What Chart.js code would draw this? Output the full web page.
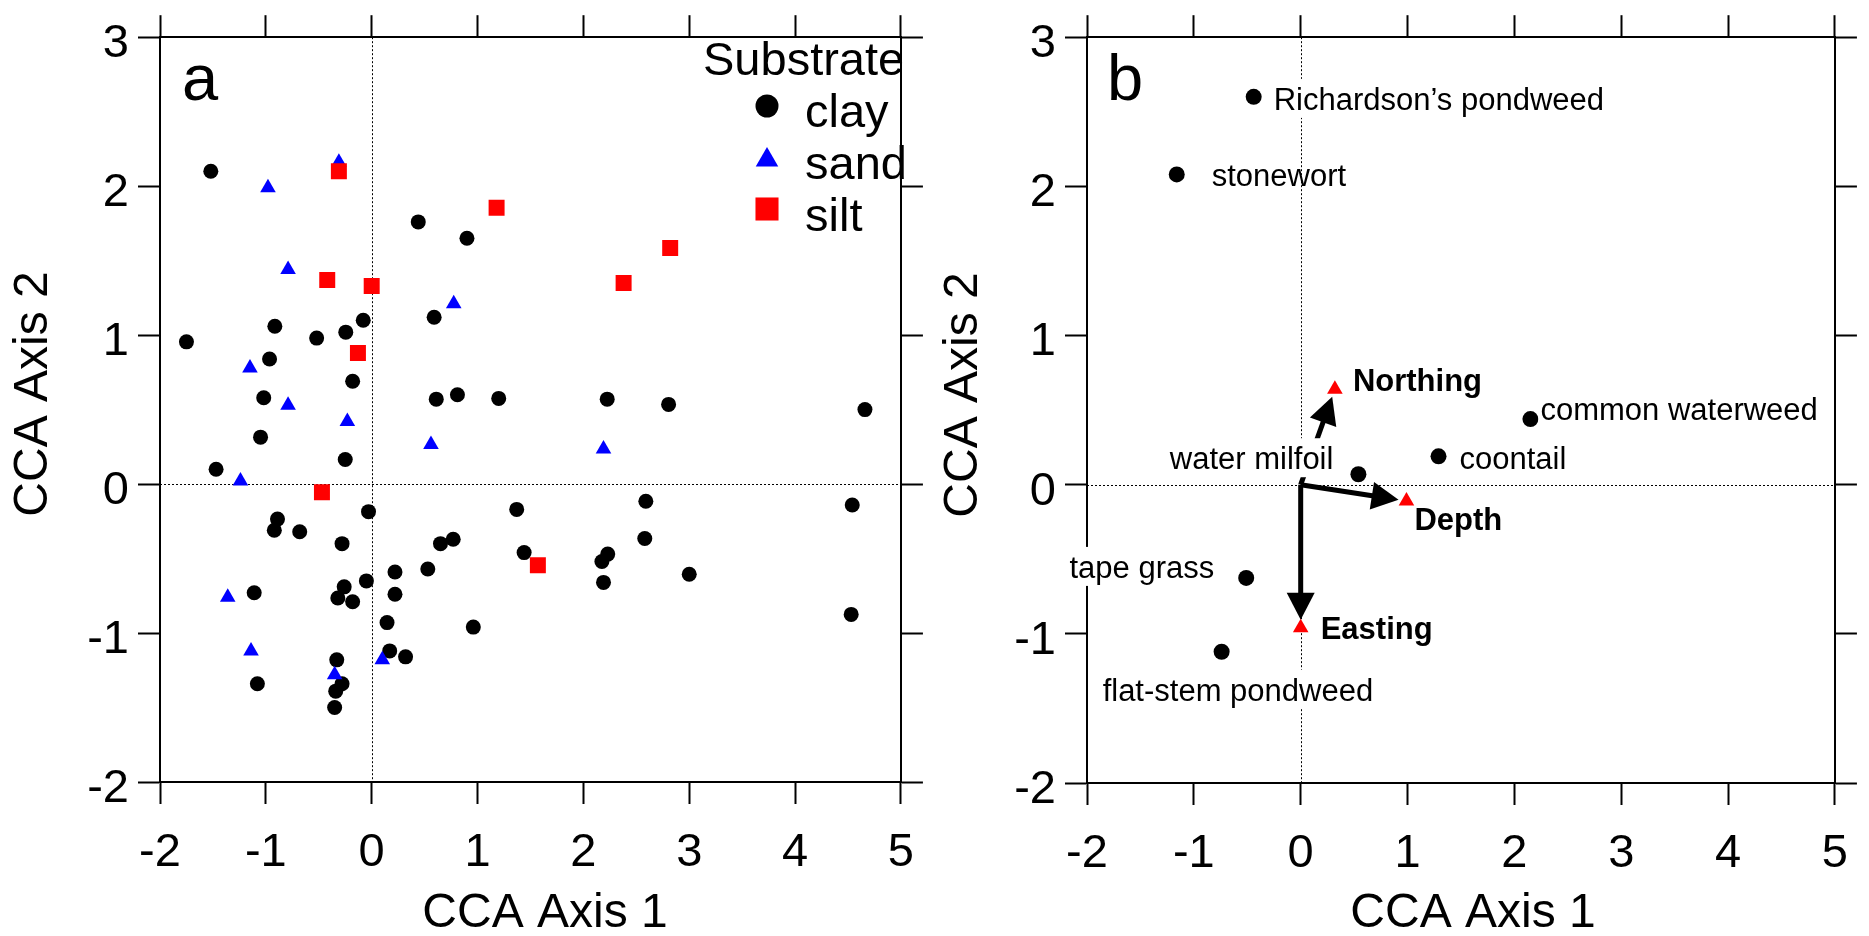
<!DOCTYPE html>
<html>
<head>
<meta charset="utf-8">
<title>CCA ordination</title>
<script src="https://cdn.jsdelivr.net/npm/chart.js@4.4.1/dist/chart.umd.min.js"></script>
<style>
  html, body { margin: 0; padding: 0; background: #fff; }
  #wrap { position: relative; width: 1869px; height: 936px; overflow: hidden; }
  canvas { position: absolute; top: 0; }
  #chartA { left: 0; }
  #chartB { left: 935px; }
</style>
</head>
<body>
<div id="wrap">
  <canvas id="chartA" width="935" height="936"></canvas>
  <canvas id="chartB" width="934" height="936"></canvas>
</div>
<script>
// Panel a: site scores, split by substrate
const clayX = [-1.52, 0.44, 0.90, -1.75, -0.915, -0.52, -0.245, -0.08, 0.59, -0.965,
  -0.18, -1.02, 0.61, 0.81, 1.20, 2.225, 2.805, 4.66, -1.05, -0.25,
  -1.47, 2.59, 4.54, 1.37, -0.03, -0.89, -0.92, -0.68, -0.28, 0.77,
  0.65, 2.58, 1.44, 2.23, 2.175, 3.00, 0.53, 0.22, -0.05, 2.19,
  -0.26, -1.11, 0.22, -0.32, -0.18, 0.145, 0.96, 4.53, 0.17, 0.32,
  -0.33, -1.08, -0.28, -0.34, -0.35];
const clayY = [2.10, 1.76, 1.65, 0.955, 1.06, 0.98, 1.02, 1.10, 1.12, 0.84,
  0.69, 0.58, 0.57, 0.60, 0.575, 0.57, 0.535, 0.50, 0.315, 0.165,
  0.10, -0.115, -0.14, -0.17, -0.185, -0.235, -0.31, -0.32, -0.40, -0.37,
  -0.40, -0.365, -0.46, -0.47, -0.52, -0.605, -0.57, -0.59, -0.65, -0.66,
  -0.69, -0.73, -0.74, -0.765, -0.79, -0.93, -0.96, -0.875, -1.12, -1.16,
  -1.18, -1.34, -1.34, -1.39, -1.50];

const sandX = [-0.31, -0.98, -0.79, 0.775, -1.15, -0.79, -0.23, 0.56, 2.19, -1.24, -1.36, -1.14, 0.10, -0.35];
const sandY = [2.16, 1.99, 1.44, 1.21, 0.78, 0.53, 0.42, 0.265, 0.235, 0.02, -0.76, -1.12, -1.18, -1.28];

const siltX = [-0.31, 1.18, 2.82, -0.42, 0.00, 2.38, -0.13, -0.47, 1.57];
const siltY = [2.10, 1.855, 1.585, 1.37, 1.33, 1.35, 0.88, -0.055, -0.545];

const substrates = ["clay", "sand", "silt"];

// Panel b: species scores and environmental vectors
const speciesNames = ["Richardson\u2019s pondweed", "stonewort", "common waterweed", "coontail",
  "water milfoil", "tape grass", "flat-stem pondweed"];
const speciesX = [-0.44, -1.16, 2.15, 1.29, 0.54, -0.51, -0.74];
const speciesY = [2.60, 2.08, 0.44, 0.19, 0.07, -0.625, -1.12];

const envNames = ["Northing", "Depth", "Easting"];
const envX = [0.32, 0.99, 0.00];
const envY = [0.64, -0.11, -0.96];

// Axis ticks (same for both panels)
const xTicks = [-2, -1, 0, 1, 2, 3, 4, 5];
const yTicks = [-2, -1, 0, 1, 2, 3];
const xTitle = "CCA Axis 1";
const yTitle = "CCA Axis 2";

const FONT = "'Liberation Sans', Arial, Helvetica, sans-serif";

// where each label sits relative to its point (pixels)
const speciesLabelPlace = [
  { align: "left", dx: 20, dy: 13, box: true },
  { align: "left", dx: 35, dy: 12, box: false },
  { align: "left", dx: 10, dy: 1, box: true },
  { align: "left", dx: 21, dy: 13, box: true },
  { align: "right", dx: -25, dy: -5, box: true },
  { align: "right", dx: -32, dy: 0, box: true },
  { align: "left", dx: -119, dy: 49, box: true }
];
const envLabelPlace = [
  { align: "left", dx: 18, dy: 2 },
  { align: "left", dx: 8, dy: 29 },
  { align: "left", dx: 20, dy: 11 }
];

function toPoints(xs, ys) {
  return xs.map((x, i) => ({ x: x, y: ys[i] }));
}

function makeScales(area, canvasW, canvasH) {
  const tickFont = { family: FONT, size: 47 };
  const grid = { drawOnChartArea: false, drawTicks: true, tickLength: 22, tickWidth: 2, tickColor: "#000" };
  const border = { display: true, color: "#000", width: 2 };
  const setX = s => { s.ticks = xTicks.map(v => ({ value: v })); };
  const setY = s => { s.ticks = yTicks.map(v => ({ value: v })); };
  return {
    x: {
      type: "linear", position: "bottom", min: -2, max: 5,
      grid: grid, border: border, afterBuildTicks: setX,
      ticks: { font: tickFont, color: "#000", padding: 21, maxRotation: 0, autoSkip: false },
      afterFit: s => { s.height = canvasH - area.bottom; }
    },
    x2: {
      type: "linear", position: "top", min: -2, max: 5,
      grid: grid, border: border, afterBuildTicks: setX,
      ticks: { display: false },
      afterFit: s => { s.height = area.top; }
    },
    y: {
      type: "linear", position: "left", min: -2, max: 3,
      grid: grid, border: border, afterBuildTicks: setY,
      ticks: { font: tickFont, color: "#000", padding: 9, labelOffset: 7, autoSkip: false },
      afterFit: s => { s.width = area.left; }
    },
    y2: {
      type: "linear", position: "right", min: -2, max: 3,
      grid: grid, border: border, afterBuildTicks: setY,
      ticks: { display: false },
      afterFit: s => { s.width = canvasW - area.right; }
    }
  };
}

// dotted lines through the origin
const zeroLines = {
  id: "zeroLines",
  beforeDatasetsDraw(chart) {
    const { ctx, chartArea: a, scales: { x, y } } = chart;
    const px = Math.round(x.getPixelForValue(0)) + 0.5;
    const py = Math.round(y.getPixelForValue(0)) + 0.5;
    ctx.save();
    ctx.strokeStyle = "#000";
    ctx.lineWidth = 1;
    ctx.setLineDash([2, 2]);
    ctx.beginPath();
    ctx.moveTo(px, a.top);
    ctx.lineTo(px, a.bottom);
    ctx.moveTo(a.left, py);
    ctx.lineTo(a.right, py);
    ctx.stroke();
    ctx.restore();
  }
};

// axis titles and panel letter
const panelText = {
  id: "panelText",
  afterDraw(chart, args, opts) {
    const ctx = chart.ctx;
    ctx.save();
    ctx.fillStyle = "#000";
    ctx.textBaseline = "alphabetic";
    ctx.font = "48px " + FONT;
    ctx.textAlign = "center";
    ctx.fillText(xTitle, opts.xTitleAt[0], opts.xTitleAt[1]);
    ctx.save();
    ctx.translate(opts.yTitleAt[0], opts.yTitleAt[1]);
    ctx.rotate(-Math.PI / 2);
    ctx.fillText(yTitle, 0, 0);
    ctx.restore();
    ctx.font = "65px " + FONT;
    ctx.textAlign = "left";
    ctx.fillText(opts.letter, opts.letterAt[0], opts.letterAt[1]);
    ctx.restore();
  }
};

function drawMarker(ctx, style, radius, x, y) {
  if (Chart.helpers && Chart.helpers.drawPoint) {
    Chart.helpers.drawPoint(ctx, { pointStyle: style, radius: radius, rotation: 0, borderWidth: 0 }, x, y);
  } else {
    ctx.beginPath();
    ctx.arc(x, y, radius, 0, Math.PI * 2);
    ctx.fill();
  }
}

// "Substrate" key in panel a
const substrateLegend = {
  id: "substrateLegend",
  afterDatasetsDraw(chart, args, opts) {
    const ctx = chart.ctx;
    ctx.save();
    ctx.fillStyle = "#000";
    ctx.font = "47px " + FONT;
    ctx.textAlign = "left";
    ctx.textBaseline = "alphabetic";
    ctx.fillText("Substrate", opts.x, opts.y);
    substrates.forEach((name, i) => {
      const ds = chart.data.datasets.find(d => d.label === name);
      ctx.fillStyle = ds.pointBackgroundColor;
      drawMarker(ctx, ds.pointStyle, opts.radius[i], opts.markerX, opts.y + opts.markerDy[i]);
      ctx.fillStyle = "#000";
      ctx.fillText(name, opts.textX, opts.y + 52 * (i + 1));
    });
    ctx.restore();
  }
};

// arrows from the origin to the environmental variables
const envArrows = {
  id: "envArrows",
  beforeDatasetsDraw(chart, args, opts) {
    const { ctx, scales: { x, y } } = chart;
    const ox = x.getPixelForValue(0), oy = y.getPixelForValue(0);
    ctx.save();
    ctx.fillStyle = "#000";
    ctx.strokeStyle = "#000";
    ctx.lineWidth = opts.lineWidth;
    envX.forEach((vx, i) => {
      const px = x.getPixelForValue(vx), py = y.getPixelForValue(envY[i]);
      const len = Math.hypot(px - ox, py - oy);
      const ux = (px - ox) / len, uy = (py - oy) / len;
      const tipX = px - ux * opts.gap, tipY = py - uy * opts.gap;
      const bx = tipX - ux * opts.headLength, by = tipY - uy * opts.headLength;
      ctx.beginPath();
      ctx.moveTo(ox, oy);
      ctx.lineTo(bx + ux * 2, by + uy * 2);
      ctx.stroke();
      ctx.beginPath();
      ctx.moveTo(tipX, tipY);
      ctx.lineTo(bx - uy * opts.headWidth, by + ux * opts.headWidth);
      ctx.lineTo(bx + uy * opts.headWidth, by - ux * opts.headWidth);
      ctx.closePath();
      ctx.fill();
    });
    ctx.restore();
  }
};

// species and variable names, some on a white patch
const pointLabels = {
  id: "pointLabels",
  afterDatasetsDraw(chart, args, opts) {
    const { ctx, scales: { x, y } } = chart;
    ctx.save();
    ctx.textBaseline = "alphabetic";
    const put = (text, vx, vy, place, bold) => {
      ctx.font = (bold ? "bold " : "") + opts.size + "px " + FONT;
      ctx.textAlign = place.align;
      const tx = x.getPixelForValue(vx) + place.dx;
      const ty = y.getPixelForValue(vy) + place.dy;
      if (place.box) {
        const w = ctx.measureText(text).width;
        const left = place.align === "right" ? tx - w : tx;
        ctx.fillStyle = "#fff";
        ctx.fillRect(left - 2, ty - 31, w + 4, 39);
      }
      ctx.fillStyle = "#000";
      ctx.fillText(text, tx, ty);
    };
    speciesNames.forEach((n, i) => put(n, speciesX[i], speciesY[i], speciesLabelPlace[i], false));
    envNames.forEach((n, i) => put(n, envX[i], envY[i], envLabelPlace[i], true));
    ctx.restore();
  }
};

const baseOptions = {
  responsive: false,
  devicePixelRatio: 1,
  animation: false,
  events: [],
  layout: { padding: 0 }
};

// Panel a
new Chart(document.getElementById("chartA"), {
  type: "scatter",
  data: {
    datasets: [
      { label: "clay", data: toPoints(clayX, clayY), order: 3, pointStyle: "circle",
        pointRadius: 7.5, pointBackgroundColor: "#000", pointBorderWidth: 0 },
      { label: "sand", data: toPoints(sandX, sandY), order: 2, pointStyle: "triangle",
        pointRadius: 9, pointBackgroundColor: "#0000ff", pointBorderWidth: 0 },
      { label: "silt", data: toPoints(siltX, siltY), order: 1, pointStyle: "rect",
        pointRadius: 11.3, pointBackgroundColor: "#ff0000", pointBorderWidth: 0 }
    ]
  },
  options: Object.assign({}, baseOptions, {
    scales: makeScales({ left: 160, right: 911, top: 30, bottom: 782 }, 935, 936),
    plugins: {
      legend: { display: false },
      tooltip: { enabled: false },
      panelText: { letter: "a", letterAt: [182, 100], xTitleAt: [545, 927], yTitleAt: [47, 394] },
      substrateLegend: { x: 703, y: 75, markerX: 767, textX: 805,
        markerDy: [31, 85, 134], radius: [11.5, 13, 16.3] }
    }
  }),
  plugins: [zeroLines, substrateLegend, panelText]
});

// Panel b
new Chart(document.getElementById("chartB"), {
  type: "scatter",
  data: {
    datasets: [
      { label: "variables", data: toPoints(envX, envY), order: 1, pointStyle: "triangle",
        pointRadius: 9, pointBackgroundColor: "#ff0000", pointBorderWidth: 0 },
      { label: "species", data: toPoints(speciesX, speciesY), order: 2, pointStyle: "circle",
        pointRadius: 8, pointBackgroundColor: "#000", pointBorderWidth: 0 }
    ]
  },
  options: Object.assign({}, baseOptions, {
    scales: makeScales({ left: 152, right: 905, top: 32, bottom: 783 }, 934, 936),
    plugins: {
      legend: { display: false },
      tooltip: { enabled: false },
      panelText: { letter: "b", letterAt: [172, 100], xTitleAt: [538, 927], yTitleAt: [42, 395] },
      envArrows: { lineWidth: 5, gap: 8, headLength: 27, headWidth: 14 },
      pointLabels: { size: 31 }
    }
  }),
  plugins: [zeroLines, envArrows, pointLabels, panelText]
});
</script>
</body>
</html>
